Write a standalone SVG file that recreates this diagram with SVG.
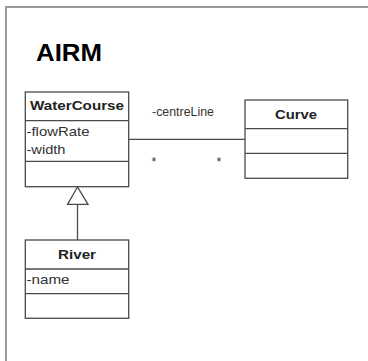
<svg xmlns="http://www.w3.org/2000/svg" width="368" height="361" viewBox="0 0 368 361">
<style>
.box{fill:#fff;stroke:#4a4a4a;stroke-width:1.3}
.div{stroke:#4a4a4a;stroke-width:1.3}
.name{font-family:"Liberation Sans",Arial,sans-serif;font-weight:bold;font-size:13px;fill:#222;text-anchor:middle}
.attr{font-family:"Liberation Sans",Arial,sans-serif;font-size:13px;fill:#333}
.lbl{font-family:"Liberation Sans",Arial,sans-serif;font-size:12.5px;fill:#333}
.conn{stroke:#4a4a4a;stroke-width:1.3;fill:none}
</style>
<rect width="368" height="361" fill="#fff"/>
<g id="frame">
<path d="M6,361 V7 H368" fill="none" stroke="#9a9a9a" stroke-width="2"/>
<text x="36" y="61" font-family="'Liberation Sans',Arial,sans-serif" font-weight="bold" font-size="24" fill="#000" textLength="66" lengthAdjust="spacingAndGlyphs">AIRM</text>
</g>
<g id="connectors">
<line class="conn" x1="128.7" y1="139.3" x2="245" y2="139.3"/>
<line class="conn" x1="77.5" y1="204.3" x2="77.5" y2="240"/>
<polygon points="77.5,187 67.5,204.3 88,204.3" fill="#fff" stroke="#4a4a4a" stroke-width="1.3"/>
<text class="lbl" x="152" y="116" textLength="62" lengthAdjust="spacingAndGlyphs">-centreLine</text>
<text class="lbl" x="151.5" y="166" font-size="6">*</text>
<text class="lbl" x="216.5" y="166" font-size="6">*</text>
</g>
<g id="WaterCourse">
<rect class="box" x="25.3" y="92" width="103.4" height="94.7"/>
<line class="div" x1="25.3" y1="120.7" x2="128.7" y2="120.7"/>
<line class="div" x1="25.3" y1="161.3" x2="128.7" y2="161.3"/>
<text class="name" x="77" y="110" textLength="94" lengthAdjust="spacingAndGlyphs">WaterCourse</text>
<text class="attr" x="26.5" y="136" textLength="63" lengthAdjust="spacingAndGlyphs">-flowRate</text>
<text class="attr" x="26.5" y="154" textLength="39" lengthAdjust="spacingAndGlyphs">-width</text>
</g>
<g id="Curve">
<rect class="box" x="245" y="100" width="102.7" height="78.3"/>
<line class="div" x1="245" y1="128.7" x2="347.7" y2="128.7"/>
<line class="div" x1="245" y1="153.3" x2="347.7" y2="153.3"/>
<text class="name" x="296" y="119.3" textLength="42" lengthAdjust="spacingAndGlyphs">Curve</text>
</g>
<g id="River">
<rect class="box" x="25.3" y="240" width="103.4" height="78.3"/>
<line class="div" x1="25.3" y1="269" x2="128.7" y2="269"/>
<line class="div" x1="25.3" y1="293.7" x2="128.7" y2="293.7"/>
<text class="name" x="77" y="258.7" textLength="38" lengthAdjust="spacingAndGlyphs">River</text>
<text class="attr" x="26.5" y="284" textLength="43" lengthAdjust="spacingAndGlyphs">-name</text>
</g>
</svg>
